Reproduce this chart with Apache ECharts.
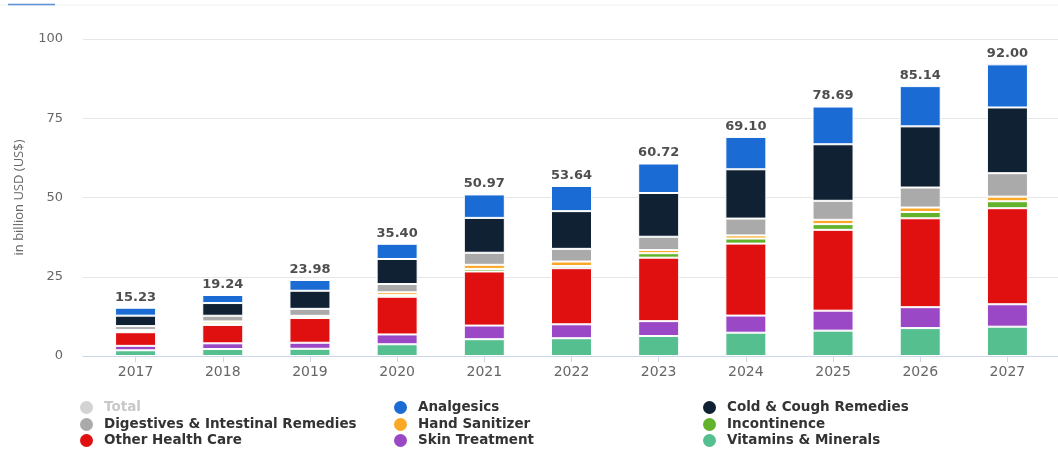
<!DOCTYPE html>
<html>
<head>
<meta charset="utf-8">
<script src="https://cdn.jsdelivr.net/npm/echarts@6/dist/echarts.min.js"></script>
<style>
  html, body { margin: 0; padding: 0; background: #ffffff; }
  #chart { width: 1058px; height: 453px; }
</style>
</head>
<body>
<div id="chart"></div>
<script>
// Market revenue by segment, in billion USD
const years = ['2017', '2018', '2019', '2020', '2021', '2022', '2023', '2024', '2025', '2026', '2027'];

const vitaminsMinerals = [1.8, 2.2, 2.28, 3.7, 5.3, 5.6, 6.3, 7.35, 8.0, 8.8, 9.25];
const skinTreatment    = [1.4, 1.8, 1.9, 3.1, 4.3, 4.4, 4.7, 5.4, 6.3, 6.6, 7.07];
const otherHealthCare  = [4.3, 5.8, 7.8, 11.9, 17.07, 17.7, 20.02, 22.7, 25.5, 28.04, 30.3];
const incontinence     = [0.3, 0.5, 0.3, 0.5, 0.8, 0.7, 1.4, 1.6, 1.8, 2.0, 2.2];
const handSanitizer    = [0.43, 0.6, 0.4, 0.9, 1.3, 1.4, 1.0, 1.0, 1.36, 1.4, 1.45];
const digestives       = [1.2, 1.8, 2.2, 2.6, 3.8, 4.0, 4.2, 5.3, 6.0, 6.3, 7.4];
const coldCough        = [3.3, 4.0, 5.7, 7.9, 11.0, 11.9, 13.8, 15.55, 17.83, 19.3, 20.73];
const analgesics       = [2.5, 2.54, 3.4, 4.8, 7.4, 7.94, 9.3, 10.2, 11.9, 12.7, 13.6];

const totals = [15.23, 19.24, 23.98, 35.40, 50.97, 53.64, 60.72, 69.10, 78.69, 85.14, 92.00];

const yTicks = { min: 0, max: 100, interval: 25 };

// Legend rows, read left to right
const legendRows = [
  ['Total', 'Analgesics', 'Cold & Cough Remedies'],
  ['Digestives & Intestinal Remedies', 'Hand Sanitizer', 'Incontinence'],
  ['Other Health Care', 'Skin Treatment', 'Vitamins & Minerals']
];

const segments = [
  { name: 'Vitamins & Minerals', data: vitaminsMinerals, color: '#56bf8f' },
  { name: 'Skin Treatment', data: skinTreatment, color: '#9a48c6' },
  { name: 'Other Health Care', data: otherHealthCare, color: '#e00f10' },
  { name: 'Incontinence', data: incontinence, color: '#62b22c' },
  { name: 'Hand Sanitizer', data: handSanitizer, color: '#fba826' },
  { name: 'Digestives & Intestinal Remedies', data: digestives, color: '#aaaaaa' },
  { name: 'Cold & Cough Remedies', data: coldCough, color: '#0f2132' },
  { name: 'Analgesics', data: analgesics, color: '#1b6bd5' }
];

const FONT = "'DejaVu Sans', sans-serif";
const NAME_FONT = "'Open Sans', sans-serif";

const barSeries = segments.map(s => ({
  name: s.name,
  type: 'bar',
  stack: 'market',
  xAxisIndex: 1,
  yAxisIndex: 1,
  barWidth: 41,
  data: s.data,
  itemStyle: { color: s.color, borderColor: '#ffffff', borderWidth: 1 },
  emphasis: { disabled: true }
}));

const totalSeries = {
  name: 'Total',
  type: 'scatter',
  xAxisIndex: 1,
  yAxisIndex: 1,
  symbolSize: 0,
  data: totals,
  itemStyle: { color: '#c8c8c8' },
  label: {
    show: true,
    position: 'top',
    distance: 4,
    formatter: p => p.value.toFixed(2),
    color: '#222222',
    fontFamily: FONT,
    fontWeight: 'bold',
    fontSize: 13
  },
  z: 5
};

// one legend block per entry so the three columns line up
const columnLeft = [80, 394, 703];
const rowTop = [400.5, 417.5, 433.5];
const legends = [];
legendRows.forEach((row, r) => {
  row.forEach((name, c) => {
    legends.push({
      left: columnLeft[c],
      top: rowTop[r],
      icon: 'circle',
      itemWidth: 13,
      itemHeight: 13,
      itemStyle: { borderWidth: 0 },
      selectedMode: false,
      padding: 0,
      textStyle: {
        fontFamily: FONT, fontWeight: 'bold', fontSize: 13.5,
        color: name === 'Total' ? '#c8c8c8' : '#333333',
        padding: [0, 0, 0, 6]
      },
      data: [name]
    });
  });
});

const chart = echarts.init(document.getElementById('chart'), null, { renderer: 'canvas' });
chart.setOption({
  backgroundColor: '#ffffff',
  animation: false,
  graphic: [
    { type: 'line', shape: { x1: 0, y1: 5, x2: 1058, y2: 5 }, style: { stroke: '#f0f0f0', lineWidth: 1 } },
    { type: 'line', shape: { x1: 8, y1: 4.5, x2: 55, y2: 4.5 }, style: { stroke: '#5b8fd8', lineWidth: 1.5 } }
  ],
  legend: legends,
  grid: [
    { left: 83, right: 0, top: 39, bottom: 97 },
    { left: 92, right: 7, top: 39, bottom: 97 }
  ],
  xAxis: [
    {
      gridIndex: 0, type: 'value', min: 0, max: 1,
      axisLine: { show: true, lineStyle: { color: '#ccd6eb', width: 1 } },
      axisTick: { show: false }, axisLabel: { show: false }, splitLine: { show: false }
    },
    {
      gridIndex: 1, type: 'category', data: years,
      axisLine: { show: false },
      axisTick: { show: true, alignWithLabel: true, length: 6, lineStyle: { color: '#ccd6eb' } },
      axisLabel: { color: '#666666', fontFamily: FONT, fontSize: 14, margin: 9 }
    }
  ],
  yAxis: [
    {
      gridIndex: 0, type: 'value', min: yTicks.min, max: yTicks.max, interval: yTicks.interval,
      name: 'in billion USD (US$)', nameLocation: 'middle', nameGap: 57,
      nameTextStyle: { color: '#666666', fontFamily: NAME_FONT, fontSize: 13 },
      axisLine: { show: false }, axisTick: { show: false },
      axisLabel: { color: '#666666', fontFamily: FONT, fontSize: 13, margin: 20 },
      splitLine: { lineStyle: { color: '#e6e6e6', width: 1 } }
    },
    {
      gridIndex: 1, type: 'value', min: yTicks.min, max: yTicks.max, interval: yTicks.interval,
      show: false
    }
  ],
  series: [...barSeries, totalSeries]
});
</script>
</body>
</html>
